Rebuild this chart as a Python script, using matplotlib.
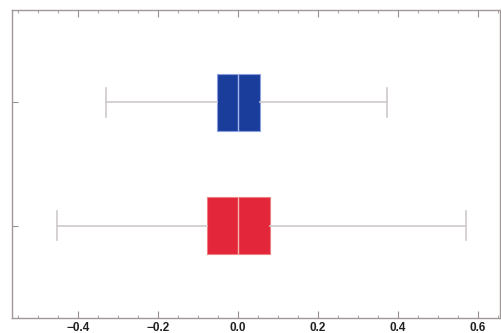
import matplotlib
matplotlib.use("Agg")
import matplotlib.pyplot as plt
from matplotlib.ticker import MultipleLocator

plt.rcParams['font.family'] = ['Liberation Sans', 'DejaVu Sans']

# box statistics (bottom group first)
labels = ['red', 'blue']
whislo = [-0.4525, -0.33]
q1 = [-0.0775, -0.0525]
med = [0.0, 0.0]
q3 = [0.08, 0.055]
whishi = [0.57, 0.3725]
colors = ['#e3263a', '#1a3c9a']
edges = ['#f08080', '#8aa0e0']
medcolors = ['#f4b7b0', '#a9b8f0']

stats = []
for i in range(len(labels)):
    stats.append({'label': labels[i], 'whislo': whislo[i], 'q1': q1[i],
                  'med': med[i], 'q3': q3[i], 'whishi': whishi[i], 'fliers': []})

fig = plt.figure(figsize=(5.02, 3.33), dpi=100)
ax = fig.add_axes([12/502, 1 - 318/333, 488/502, 308/333])

bp = ax.bxp(stats, positions=[1, 2], widths=0.46, vert=False, patch_artist=True,
            showfliers=False,
            whiskerprops=dict(color='#cfcaca', linewidth=1.2),
            capprops=dict(color='#cfcaca', linewidth=1.2),
            medianprops=dict(linewidth=1.0),
            boxprops=dict(linewidth=0.8))
for i, patch in enumerate(bp['boxes']):
    patch.set_facecolor(colors[i])
    patch.set_edgecolor(edges[i])
    bp['medians'][i].set_color(medcolors[i])

# shorter caps than the box
for cap in bp['caps']:
    y = cap.get_ydata()
    m = (y[0] + y[1]) / 2
    cap.set_ydata([m - 0.12, m + 0.12])

ax.set_xlim(-0.565, 0.655)
ax.set_ylim(0.25, 2.75)
ax.xaxis.set_minor_locator(MultipleLocator(0.05))
ax.set_yticks([1, 2])
ax.set_yticklabels(['', ''])
ax.tick_params(axis='both', which='both', direction='in', top=True, right=False,
               color='#9a9090')
ax.tick_params(axis='x', which='major', length=5, width=0.8, labelsize=8.5, pad=3)
ax.tick_params(axis='x', which='minor', length=2.5, width=0.6)
ax.tick_params(axis='y', length=4)
ax.set_xticks([-0.4, -0.2, 0.0, 0.2, 0.4, 0.6])
ax.set_xticklabels(['\u22120.4', '\u22120.2', '0.0', '0.2', '0.4', '0.6'],
                   fontweight='bold', color='#222222')
for s in ax.spines.values():
    s.set_color('#a09898')
    s.set_linewidth(1.0)

fig.savefig('out.png', dpi=100)
